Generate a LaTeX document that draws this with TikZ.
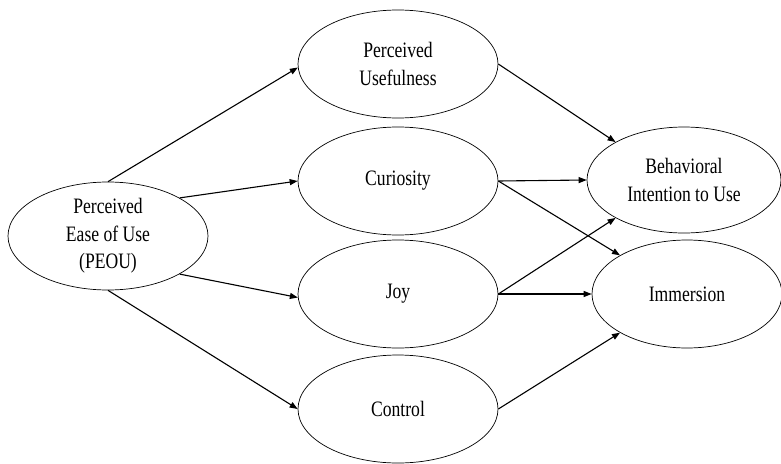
\documentclass[tikz,border=0pt]{standalone}
\usepackage{fontspec}
\setmainfont{Liberation Serif}[FakeStretch=0.8]
\usetikzlibrary{shapes.geometric,arrows.meta}
\begin{document}
\begin{tikzpicture}[x=1pt,y=-1pt,
  ell/.style={ellipse,draw,line width=0.7pt,inner sep=0pt,minimum width=200pt,minimum height=108pt,align=center,font=\fontsize{22}{27.5}\selectfont},
  arr/.style={-{Triangle[length=8pt,width=6pt]},line width=1.1pt}]
\useasboundingbox (0,0) rectangle (781,463);
\node[ell] (peou) at (108,236) {Perceived\\Ease of Use\\(PEOU)};
\node[ell] (pu) at (398,64) {Perceived\\Usefulness};
\node[ell] (cur) at (398,181) {Curiosity};
\node[ell] (joy) at (398,294) {Joy};
\node[ell] (con) at (398,409) {Control};
\node[ell,minimum width=194pt,minimum height=106pt] (bi) at (684,180) {Behavioral\\Intention to Use};
\node[ell,minimum width=190pt,minimum height=108pt] (imm) at (687,294) {Immersion};
\draw[arr] (peou.north) -- (pu.182);
\draw[arr] (peou.28) -- (cur.west);
\draw[arr] (peou.-28) -- (joy.182);
\draw[arr] (peou.south) -- (con.west);
\draw[arr] (pu.east) -- (bi.151);
\draw[arr] (cur.east) -- (bi.west);
\draw[arr] (cur.east) -- (imm.150);
\draw[arr] (joy.east) -- (bi.209);
\draw[arr] (joy.east) -- (imm.west);
\draw[arr] (con.east) -- (imm.210);
\end{tikzpicture}
\end{document}
